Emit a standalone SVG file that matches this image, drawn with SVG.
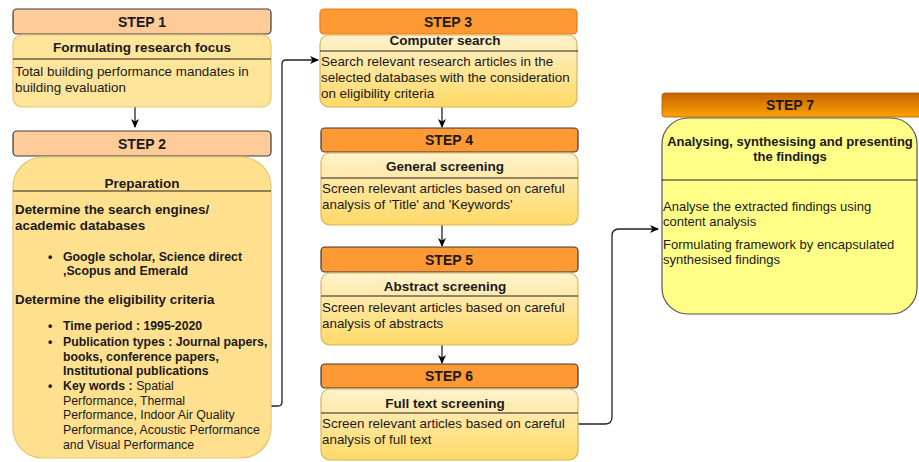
<svg xmlns="http://www.w3.org/2000/svg" width="919" height="462" viewBox="0 0 919 462">
<defs>
<linearGradient id="gBody" x1="0" y1="0" x2="0" y2="1">
<stop offset="0" stop-color="#FFF2CC"/>
<stop offset="1" stop-color="#FFD966"/>
</linearGradient>
<linearGradient id="gH7" x1="0" y1="0" x2="0" y2="1">
<stop offset="0" stop-color="#C46200"/>
<stop offset="1" stop-color="#FFA200"/>
</linearGradient>
<marker id="arr" markerWidth="10" markerHeight="10" refX="8" refY="5" orient="auto" markerUnits="userSpaceOnUse">
<path d="M0,1 L9,5 L0,9 L2.5,5 Z" fill="#000"/>
</marker>
<style>
text{font-family:"Liberation Sans",Arial,sans-serif;fill:#1a1a1a}
.hd{font-size:14px;font-weight:bold;text-anchor:middle}
.tt{font-size:13.5px;font-weight:bold;text-anchor:middle}
.t7{font-size:13px;font-weight:bold;text-anchor:middle}
.tx{font-size:13.4px}
.b{font-size:13.4px;font-weight:bold}
.bl{font-size:12.3px;font-weight:bold}
.kw{font-size:12.3px}
.sm{font-size:13px}
.h1{fill:#FFCC99;stroke:#3a3a3a;stroke-width:1.2}
.h3{fill:#FF9933;stroke:#3a3a3a;stroke-width:1.2}
.bd{fill:url(#gBody);stroke:#d6b656;stroke-width:1.2}
.sep{stroke:#222;stroke-width:1.2}
.con{fill:none;stroke:#222;stroke-width:1.3}
</style>
</defs>

<g id="connectors">
<line class="con" x1="135" y1="107" x2="135" y2="127" marker-end="url(#arr)"/>
<path class="con" d="M271,406 H278 Q282,406 282,402 V64 Q282,60 286,60 H318" marker-end="url(#arr)"/>
<line class="con" x1="442" y1="107" x2="442" y2="127" marker-end="url(#arr)"/>
<line class="con" x1="442" y1="225" x2="442" y2="246" marker-end="url(#arr)"/>
<line class="con" x1="442" y1="345" x2="442" y2="363" marker-end="url(#arr)"/>
<path class="con" d="M578,424 H605 Q612,424 612,417 V236 Q612,229 619,229 H658" marker-end="url(#arr)"/>
</g>

<g id="step1">
<rect class="h1" x="13" y="9" width="258" height="25" rx="4"/>
<text class="hd" x="142" y="27">STEP 1</text>
<rect x="13" y="35" width="258" height="72" rx="9" fill="#FFE599" stroke="#e3c770" stroke-width="1.2"/>
<text class="tt" x="142" y="52">Formulating research focus</text>
<line class="sep" x1="13" y1="59" x2="271" y2="59"/>
<text class="tx" x="15" y="76">Total building performance mandates in</text>
<text class="tx" x="15" y="92">building evaluation</text>
</g>

<g id="step2">
<rect class="h1" x="13" y="131" width="258" height="25" rx="4"/>
<text class="hd" x="142" y="149">STEP 2</text>
<rect x="13" y="157" width="258" height="301" rx="30" fill="#FFE08F" stroke="#e3c770" stroke-width="1.2"/>
<text class="tt" x="142" y="188">Preparation</text>
<line class="sep" x1="13" y1="191" x2="271" y2="191"/>
<text class="b" x="15" y="214">Determine the search engines/</text>
<text class="b" x="15" y="230">academic databases</text>
<text class="bl" x="48" y="261">•</text>
<text class="bl" x="63" y="261">Google scholar, Science direct</text>
<text class="bl" x="63" y="275">,Scopus and Emerald</text>
<text class="b" x="15" y="304">Determine the eligibility criteria</text>
<text class="bl" x="48" y="330">•</text>
<text class="bl" x="63" y="330">Time period : 1995-2020</text>
<text class="bl" x="48" y="346">•</text>
<text class="bl" x="63" y="346">Publication types : Journal papers,</text>
<text class="bl" x="63" y="361">books, conference papers,</text>
<text class="bl" x="63" y="375">Institutional publications</text>
<text class="bl" x="48" y="390">•</text>
<text class="kw" x="63" y="390"><tspan font-weight="bold">Key words : </tspan>Spatial</text>
<text class="kw" x="63" y="405">Performance, Thermal</text>
<text class="kw" x="63" y="419">Performance, Indoor Air Quality</text>
<text class="kw" x="63" y="434">Performance, Acoustic Performance</text>
<text class="kw" x="63" y="449">and Visual Performance</text>
</g>

<g id="step3">
<rect x="320" y="9" width="257" height="25" rx="4" fill="#FF9933" stroke="#E87A1A" stroke-width="1.2"/>
<text class="hd" x="448" y="27">STEP 3</text>
<rect class="bd" x="320" y="35" width="257" height="72" rx="9"/>
<text class="tt" x="445" y="45">Computer search</text>
<line class="sep" x1="320" y1="51" x2="578" y2="51"/>
<text class="tx" x="321" y="66">Search relevant research articles in the</text>
<text class="tx" x="321" y="82">selected databases with the consideration</text>
<text class="tx" x="321" y="98">on eligibility criteria</text>
</g>

<g id="step4">
<rect class="h3" x="321" y="128" width="257" height="24" rx="4"/>
<text class="hd" x="449" y="145">STEP 4</text>
<rect class="bd" x="321" y="153" width="257" height="72" rx="9"/>
<text class="tt" x="445" y="171">General screening</text>
<line class="sep" x1="321" y1="178" x2="578" y2="178"/>
<text class="tx" x="322" y="193">Screen relevant articles based on careful</text>
<text class="tx" x="322" y="209">analysis of 'Title' and 'Keywords'</text>
</g>

<g id="step5">
<rect class="h3" x="321" y="247" width="257" height="25" rx="4"/>
<text class="hd" x="449" y="265">STEP 5</text>
<rect class="bd" x="321" y="273" width="257" height="72" rx="9"/>
<text class="tt" x="445" y="291">Abstract screening</text>
<line class="sep" x1="321" y1="296" x2="578" y2="296"/>
<text class="tx" x="322" y="312">Screen relevant articles based on careful</text>
<text class="tx" x="322" y="328">analysis of abstracts</text>
</g>

<g id="step6">
<rect class="h3" x="321" y="364" width="257" height="24" rx="4"/>
<text class="hd" x="449" y="381">STEP 6</text>
<rect class="bd" x="321" y="389" width="257" height="71" rx="9"/>
<text class="tt" x="445" y="408">Full text screening</text>
<line class="sep" x1="321" y1="413" x2="578" y2="413"/>
<text class="tx" x="322" y="428">Screen relevant articles based on careful</text>
<text class="tx" x="322" y="444">analysis of full text</text>
</g>

<g id="step7">
<rect x="662" y="93" width="262" height="24" rx="3" fill="url(#gH7)" stroke="#B05800" stroke-width="0.8"/>
<text class="hd" x="790" y="110">STEP 7</text>
<rect x="662" y="118" width="255" height="196" rx="26" fill="#FFFF88" stroke="#555" stroke-width="1.2"/>
<text class="t7" x="790" y="146">Analysing, synthesising and presenting</text>
<text class="t7" x="790" y="161">the findings</text>
<line class="sep" x1="662" y1="180" x2="917" y2="180"/>
<text class="sm" x="663" y="211">Analyse the extracted findings using</text>
<text class="sm" x="663" y="226">content analysis</text>
<text class="sm" x="663" y="249">Formulating framework by encapsulated</text>
<text class="sm" x="663" y="264">synthesised findings</text>
</g>
</svg>
